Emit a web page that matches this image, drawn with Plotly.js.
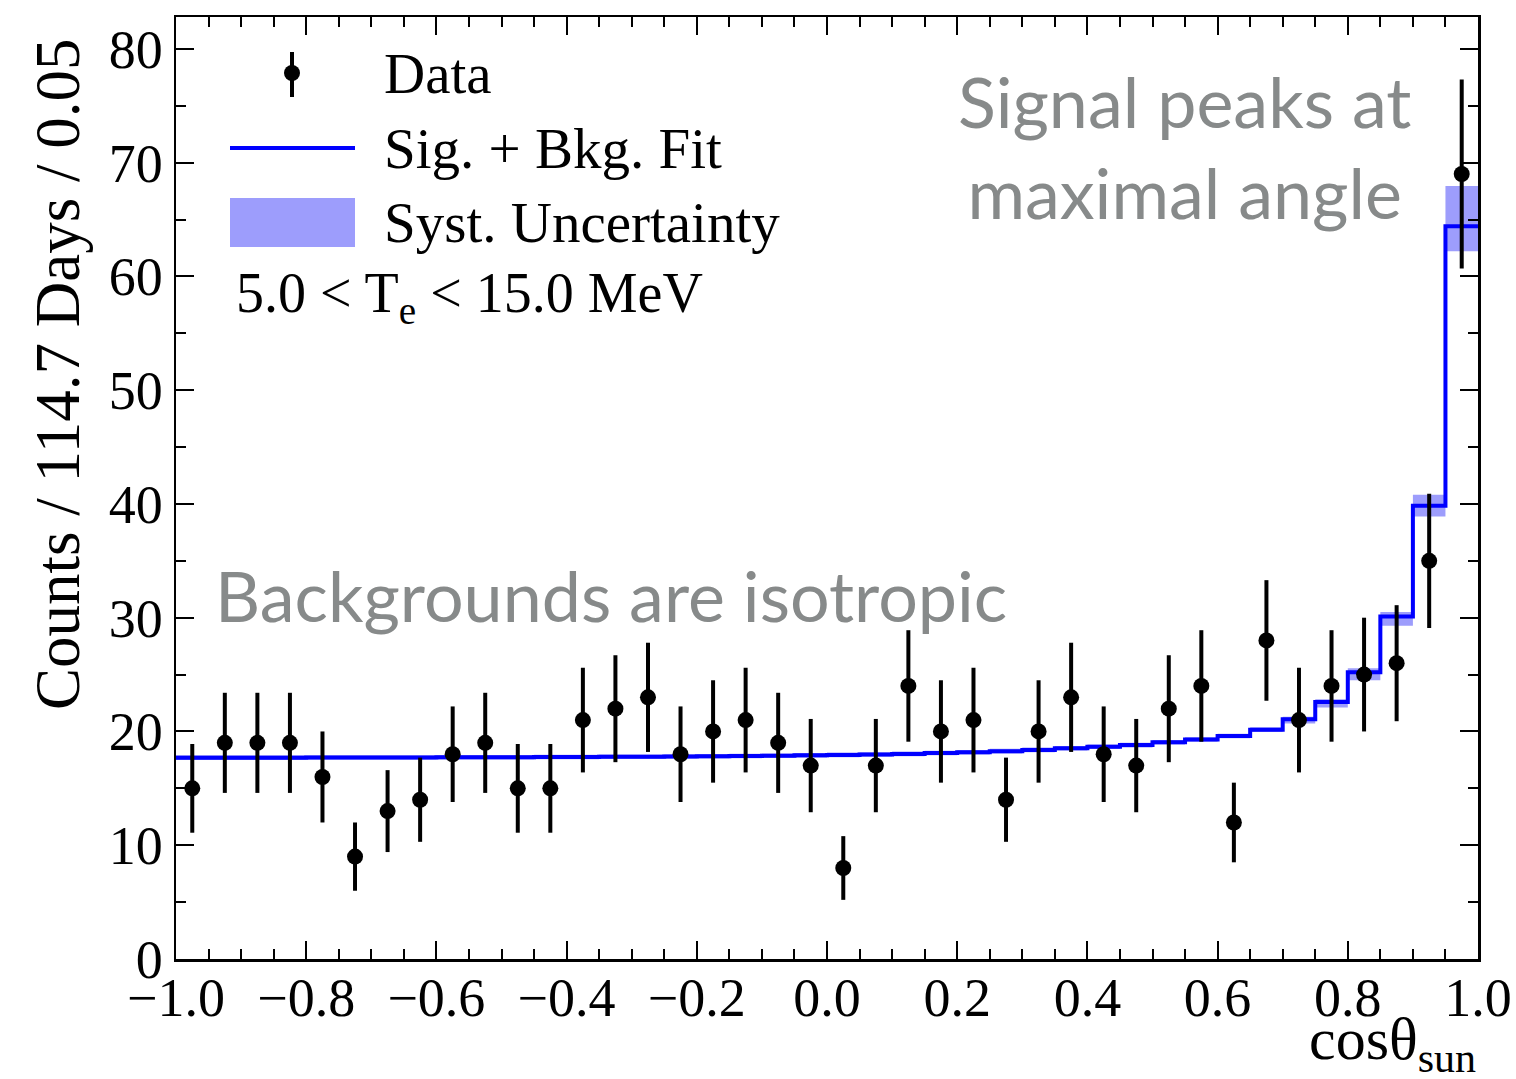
<!DOCTYPE html>
<html>
<head>
<meta charset="utf-8">
<script src="https://cdn.plot.ly/plotly-3.0.1.min.js"></script>
<style>
  html, body { margin: 0; padding: 0; background: #ffffff; }
  #chart { width: 1516px; height: 1079px; }
</style>
</head>
<body>
<div id="chart"></div>
<script>
// cos(theta_sun) bin centres (bin width 0.05)
const binCenters = [
  -0.975, -0.925, -0.875, -0.825, -0.775, -0.725, -0.675, -0.625, -0.575, -0.525,
  -0.475, -0.425, -0.375, -0.325, -0.275, -0.225, -0.175, -0.125, -0.075, -0.025,
   0.025,  0.075,  0.125,  0.175,  0.225,  0.275,  0.325,  0.375,  0.425,  0.475,
   0.525,  0.575,  0.625,  0.675,  0.725,  0.775,  0.825,  0.875,  0.925,  0.975
];
const binWidth = 0.05;

// Observed counts per bin and their statistical errors
const dataCounts = [
  15, 19, 19, 19, 16,  9, 13, 14, 18, 19,
  15, 15, 21, 22, 23, 18, 20, 21, 19, 17,
   8, 17, 24, 20, 21, 14, 20, 23, 18, 17,
  22, 24, 12, 28, 21, 24, 25, 26, 35, 69
];
const dataErrors = [
  3.9, 4.4, 4.4, 4.4, 4.0, 3.0, 3.6, 3.7, 4.2, 4.4,
  3.9, 3.9, 4.6, 4.7, 4.8, 4.2, 4.5, 4.6, 4.4, 4.1,
  2.8, 4.1, 4.9, 4.5, 4.6, 3.7, 4.5, 4.8, 4.2, 4.1,
  4.7, 4.9, 3.5, 5.3, 4.6, 4.9, 5.0, 5.1, 5.9, 8.3
];

// Signal + background fit, per bin
const fitValues = [
  17.70, 17.70, 17.70, 17.70, 17.71, 17.71, 17.72, 17.72, 17.73, 17.73,
  17.74, 17.75, 17.76, 17.77, 17.78, 17.80, 17.82, 17.84, 17.87, 17.90,
  17.94, 17.98, 18.03, 18.10, 18.18, 18.27, 18.38, 18.52, 18.66, 18.80,
  19.05, 19.30, 19.60, 20.16, 21.07, 22.60, 25.20, 30.10, 39.85, 64.40
];

// Systematic uncertainty band on the fit (lower / upper edge per bin)
const systLower = [
  17.50, 17.50, 17.50, 17.50, 17.51, 17.51, 17.52, 17.52, 17.53, 17.53,
  17.54, 17.55, 17.56, 17.57, 17.58, 17.60, 17.62, 17.64, 17.67, 17.70,
  17.74, 17.78, 17.83, 17.90, 17.98, 18.07, 18.18, 18.32, 18.46, 18.60,
  18.85, 19.10, 19.40, 19.95, 20.70, 22.10, 24.50, 29.30, 38.90, 62.20
];
const systUpper = [
  17.90, 17.90, 17.90, 17.90, 17.91, 17.91, 17.92, 17.92, 17.93, 17.93,
  17.94, 17.95, 17.96, 17.97, 17.98, 18.00, 18.02, 18.04, 18.07, 18.10,
  18.14, 18.18, 18.23, 18.30, 18.38, 18.47, 18.58, 18.72, 18.86, 19.00,
  19.25, 19.50, 19.80, 20.38, 21.30, 22.83, 25.55, 30.50, 40.80, 67.95
];

// Step curves are drawn on bin edges; the last value is repeated to close the final bin
const binEdges = binCenters.map(c => c - binWidth / 2).concat([binCenters[binCenters.length - 1] + binWidth / 2]);
const stepY = arr => arr.concat([arr[arr.length - 1]]);

const serif = 'Liberation Serif, Times New Roman, serif';
const sans = 'Lato, Noto Sans, sans-serif';
const grey = '#878a8a';
const bandColor = '#9d9dfc';

const traces = [
  {
    x: binEdges, y: stepY(systLower), type: 'scatter', mode: 'lines',
    line: { shape: 'hv', width: 0, color: bandColor },
    hoverinfo: 'skip', showlegend: false
  },
  {
    x: binEdges, y: stepY(systUpper), type: 'scatter', mode: 'lines',
    line: { shape: 'hv', width: 0, color: bandColor },
    fill: 'tonexty', fillcolor: bandColor,
    name: 'Syst. Uncertainty', showlegend: false
  },
  {
    x: binEdges, y: stepY(fitValues), type: 'scatter', mode: 'lines',
    line: { shape: 'hv', width: 4, color: '#0000ff' },
    name: 'Sig. + Bkg. Fit', showlegend: false
  },
  {
    x: binCenters, y: dataCounts, type: 'scatter', mode: 'markers',
    marker: { size: 16, color: '#000000' },
    error_y: { type: 'data', array: dataErrors, visible: true, thickness: 4, width: 0, color: '#000000' },
    name: 'Data', showlegend: false
  }
];

// Helpers to place items in pixel terms relative to the plotting area
const L = 176, R = 1478, T = 17, B = 959;
const px = v => (v - L) / (R - L);
const py = v => (B - v) / (B - T);

const shapes = [
  // legend: data point with error bar
  { type: 'line', xref: 'paper', yref: 'paper', x0: px(292), x1: px(292), y0: py(97), y1: py(52),
    line: { color: '#000000', width: 4 } },
  { type: 'circle', xref: 'paper', yref: 'paper', x0: px(284), x1: px(300), y0: py(81), y1: py(65),
    fillcolor: '#000000', line: { color: '#000000', width: 0 } },
  // legend: fit line
  { type: 'line', xref: 'paper', yref: 'paper', x0: px(230), x1: px(355), y0: py(148), y1: py(148),
    line: { color: '#0000ff', width: 4 } },
  // legend: systematic band
  { type: 'rect', xref: 'paper', yref: 'paper', x0: px(230), x1: px(355), y0: py(247), y1: py(198),
    fillcolor: bandColor, line: { width: 0 } }
];

const annotations = [
  { text: 'Data', x: px(382), y: py(74), xref: 'paper', yref: 'paper', xanchor: 'left', yanchor: 'middle',
    showarrow: false, font: { family: serif, size: 57, color: '#000000' } },
  { text: 'Sig. + Bkg. Fit', x: px(382), y: py(149), xref: 'paper', yref: 'paper', xanchor: 'left', yanchor: 'middle',
    showarrow: false, font: { family: serif, size: 57, color: '#000000' } },
  { text: 'Syst. Uncertainty', x: px(382), y: py(223), xref: 'paper', yref: 'paper', xanchor: 'left', yanchor: 'middle',
    showarrow: false, font: { family: serif, size: 57, color: '#000000' } },
  { text: '5.0 < T<sub>e</sub> < 15.0 MeV', x: px(234), y: py(297), xref: 'paper', yref: 'paper', xanchor: 'left', yanchor: 'middle',
    showarrow: false, font: { family: serif, size: 56, color: '#000000' } },
  { text: 'Signal peaks at<br>maximal angle', x: px(1184), y: py(147), xref: 'paper', yref: 'paper', xanchor: 'center', yanchor: 'middle',
    align: 'center', showarrow: false, font: { family: sans, size: 70, color: grey } },
  { text: 'Backgrounds are isotropic', x: px(213), y: py(595), xref: 'paper', yref: 'paper', xanchor: 'left', yanchor: 'middle',
    showarrow: false, font: { family: sans, size: 70, color: grey } },
  // axis titles
  { text: 'Counts / 114.7 Days / 0.05', x: px(58), y: py(375), xref: 'paper', yref: 'paper', xanchor: 'center', yanchor: 'middle',
    textangle: -90, showarrow: false, font: { family: serif, size: 63, color: '#000000' } },
  { text: 'cosθ<sub>sun</sub>', x: 1, y: py(1043), xref: 'paper', yref: 'paper', xanchor: 'right', yanchor: 'middle',
    showarrow: false, font: { family: serif, size: 60, color: '#000000' } }
];

const axisCommon = {
  showline: true, linecolor: '#000000', linewidth: 2.5, mirror: 'allticks',
  ticks: 'inside', ticklen: 18, tickwidth: 2, tickcolor: '#000000',
  showgrid: false, zeroline: false,
  tickfont: { family: serif, size: 54, color: '#000000' }
};

const layout = {
  width: 1516, height: 1079,
  margin: { l: L, r: 1516 - R, t: T, b: 1079 - B },
  paper_bgcolor: '#ffffff', plot_bgcolor: '#ffffff',
  showlegend: false,
  xaxis: Object.assign({}, axisCommon, {
    range: [-1, 1], tick0: -1, dtick: 0.2, tickformat: '.1f', ticklabelstandoff: -10,
    minor: { dtick: 0.05, ticks: 'inside', ticklen: 10, tickwidth: 2, tickcolor: '#000000', showgrid: false }
  }),
  yaxis: Object.assign({}, axisCommon, {
    range: [0, 82.8], tick0: 0, dtick: 10,
    minor: { dtick: 5, ticks: 'inside', ticklen: 10, tickwidth: 2, tickcolor: '#000000', showgrid: false }
  }),
  shapes: shapes,
  annotations: annotations
};

Plotly.newPlot('chart', traces, layout, { displayModeBar: false, staticPlot: true });
</script>
</body>
</html>
